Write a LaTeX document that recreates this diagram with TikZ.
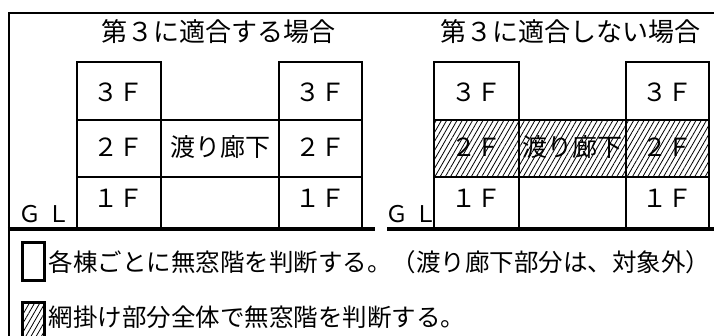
\documentclass[tikz,border=0pt]{standalone}
\usepackage{fontspec}
\newfontfamily\jp{Noto Sans CJK JP}
\usetikzlibrary{patterns.meta}
\begin{document}
\begin{tikzpicture}[x=1pt,y=-1pt,
  frame/.style={line width=2.5pt},
  gl/.style={line width=4pt},
  bldg/.style={line width=2.8pt},
  title/.style={font=\jp\fontsize{26}{26}\selectfont, inner sep=0pt},
  cell/.style={font=\jp\fontsize{25}{25}\selectfont, inner sep=0pt},
  gltext/.style={font=\jp\fontsize{23}{23}\selectfont, inner sep=0pt},
  legend/.style={font=\jp\fontsize{24.5}{24.5}\selectfont, inner sep=0pt, anchor=west},
  hatch/.style={pattern={Lines[angle=60,distance=4.5pt,line width=0.8pt]}},
  legbox/.style={draw, line width=3pt, minimum width=22pt, minimum height=38pt, inner sep=0pt}
]
\useasboundingbox (0,0) rectangle (714,336);
% titles
\node[title] (t1) at (218,32) {第３に適合する場合};
\node[title] (t2) at (570,32) {第３に適合しない場合};
% left panel texts
\node[cell] (a3) at (118,92) {３Ｆ};
\node[cell] (a2) at (118,147) {２Ｆ};
\node[cell] (a1) at (118,198) {１Ｆ};
\node[cell] (ac) at (220,147) {渡り廊下};
\node[cell] (b3) at (320,92) {３Ｆ};
\node[cell] (b2) at (320,147) {２Ｆ};
\node[cell] (b1) at (320,198) {１Ｆ};
\node[gltext] (gl1) at (44.5,214) {Ｇ\hspace{7pt}Ｌ};
% right panel texts
\node[cell] (c3) at (476,92) {３Ｆ};
\node[cell] (c2) at (476,147) {２Ｆ};
\node[cell] (c1) at (476,198) {１Ｆ};
\node[cell] (cc) at (572.5,147) {渡り廊下};
\node[cell] (d3) at (667,92) {３Ｆ};
\node[cell] (d2) at (667,147) {２Ｆ};
\node[cell] (d1) at (667,198) {１Ｆ};
\node[gltext] (gl2) at (411.5,214) {Ｇ\hspace{7pt}Ｌ};
% hatching over the 2F row of the right panel
\path[hatch] (434,120) rectangle (709,177);
% frame
\draw[frame] (9,345) -- (9,13) -- (720,13);
% GL lines
\draw[gl] (7.75,229) -- (375,229);
\draw[gl] (387,229) -- (720,229);
% left panel buildings
\draw[bldg] (77,229) rectangle (161,62);
\draw[bldg] (279,229) rectangle (362,62);
\draw[bldg] (77,120) -- (362,120);
\draw[bldg] (77,177) -- (362,177);
% right panel buildings
\draw[bldg] (434,229) rectangle (519,62);
\draw[bldg] (626,229) rectangle (709,62);
\draw[bldg] (434,120) -- (709,120);
\draw[bldg] (434,177) -- (709,177);
% legend
\node[legbox] (k1) at (33,262) {};
\node[legend] (l1) at (48.5,262) {各棟ごとに無窓階を判断する。（渡り廊下部分は、対象外）};
\node[legbox, hatch, minimum height=44pt] (k2) at (33,325) {};
\node[legend] (l2) at (48.5,317) {網掛け部分全体で無窓階を判断する。};
\end{tikzpicture}
\end{document}
